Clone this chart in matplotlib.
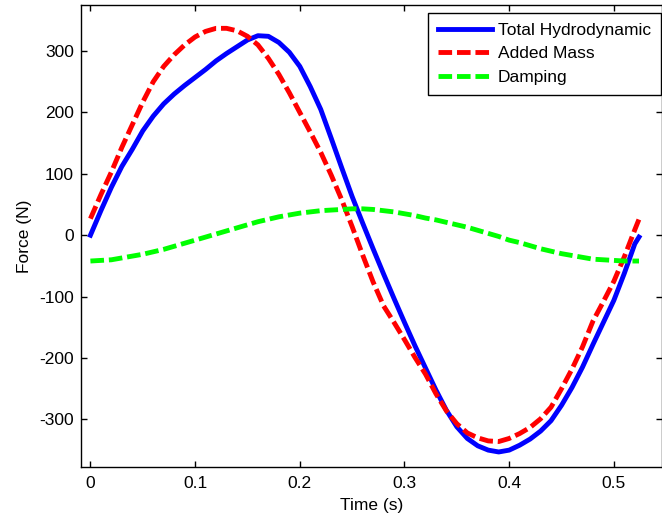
import matplotlib.pyplot as plt

plt.rcParams['font.family'] = ['Liberation Sans', 'DejaVu Sans']
plt.rcParams['axes.unicode_minus'] = False

# time samples (s)
t = [0.0, 0.01, 0.02, 0.03, 0.04, 0.05, 0.06, 0.07, 0.08, 0.09,
     0.10, 0.11, 0.12, 0.13, 0.14, 0.15, 0.16, 0.17, 0.18, 0.19,
     0.20, 0.21, 0.22, 0.23, 0.24, 0.25, 0.26, 0.27, 0.28, 0.29,
     0.30, 0.31, 0.32, 0.33, 0.34, 0.35, 0.36, 0.37, 0.38, 0.39,
     0.40, 0.41, 0.42, 0.43, 0.44, 0.45, 0.46, 0.47, 0.48, 0.49,
     0.50, 0.51, 0.52, 0.524]

# forces (N)
total_hydro = [0, 40, 78, 112, 140, 170, 194, 214, 230, 244,
               257, 270, 284, 296, 307, 318, 325, 324, 314, 298,
               275, 242, 205, 158, 110, 63, 20, -22, -63, -103,
               -142, -180, -216, -252, -285, -312, -331, -343, -350, -353,
               -350, -342, -332, -319, -302, -277, -248, -215, -178, -142,
               -106, -62, -14, -3]
added_mass = [27, 66, 103, 143, 180, 217, 250, 275, 294, 310,
              323, 332, 337, 337, 333, 324, 310, 288, 262, 232,
              200, 168, 135, 98, 58, 14, -32, -76, -115, -142,
              -170, -199, -226, -258, -286, -307, -322, -330, -335, -336,
              -331, -323, -313, -299, -280, -250, -218, -182, -140, -108,
              -75, -35, 9, 26]
damping = [-42, -41, -40, -37, -34, -31, -27, -23, -18, -13,
           -8, -3, 2, 7, 12, 17, 22, 26, 30, 33,
           36, 38, 40, 41, 42, 43, 43, 42, 40, 38,
           35, 32, 28, 25, 21, 17, 13, 8, 3, -2,
           -8, -12, -17, -22, -26, -30, -33, -36, -39, -40,
           -41, -42, -42, -42]

fig = plt.figure(figsize=(6.62, 5.18), dpi=100)
ax = fig.add_axes([81 / 662, 1 - 466.7 / 518, (661.5 - 81) / 662, (466.7 - 5) / 518])

lw = 3.5
ax.plot(t, total_hydro, color=(0, 0, 1), lw=lw, label='Total Hydrodynamic')
ax.plot(t, added_mass, color=(1, 0, 0), lw=lw, linestyle=(0, (2.8, 1.0)), label='Added Mass')
ax.plot(t, damping, color=(0, 1, 0), lw=lw, linestyle=(0, (2.8, 1.0)), label='Damping')

ax.set_xlim(-0.009, 0.5455)
ax.set_ylim(-377, 375)
ax.set_xticks([0, 0.1, 0.2, 0.3, 0.4, 0.5])
ax.set_xticklabels(['0', '0.1', '0.2', '0.3', '0.4', '0.5'])
ax.set_yticks([-300, -200, -100, 0, 100, 200, 300])

ax.tick_params(direction='in', length=4.5, width=1, top=True, right=True,
               labelsize=12.5, pad=5)
ax.tick_params(axis='x', pad=7)
for s in ax.spines.values():
    s.set_linewidth(1)

ax.set_xlabel('Time (s)', fontsize=12.5, labelpad=5)
ax.set_ylabel('Force (N)', fontsize=12.5, labelpad=5)

leg = ax.legend(loc='upper right', bbox_to_anchor=(660.7 / 662, 1 - 13.3 / 518),
                bbox_transform=fig.transFigure, borderaxespad=0, fontsize=12.5,
                fancybox=False, framealpha=1, edgecolor='black',
                handlelength=3.15, handletextpad=0.32, labelspacing=0.48,
                borderpad=0.55)
leg.get_frame().set_linewidth(1)

fig.savefig('out.png', dpi=100)
